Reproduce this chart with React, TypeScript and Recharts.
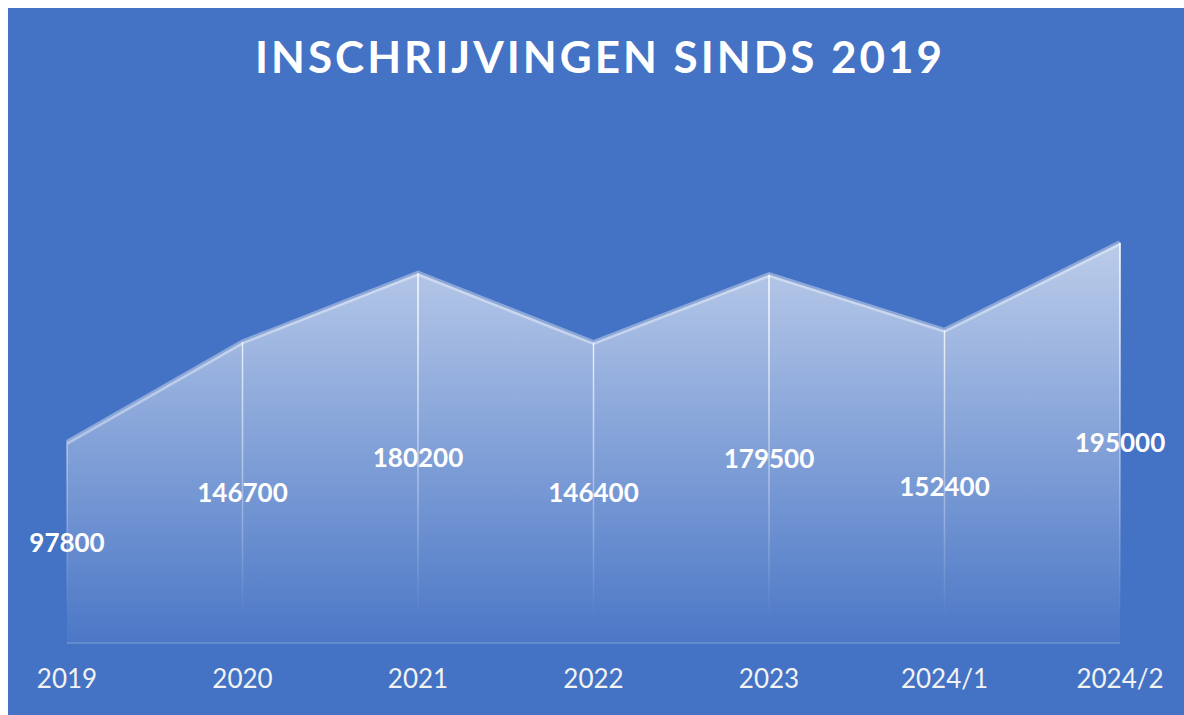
import React from "react";
import { AreaChart, Area, XAxis, YAxis, ReferenceLine } from "recharts";

const years = ["2019", "2020", "2021", "2022", "2023", "2024/1", "2024/2"];
const inschrijvingen = [97800, 146700, 180200, 146400, 179500, 152400, 195000];
const yTicks = [0, 50000, 100000, 150000, 200000, 250000];

const BG = "#4472C4";
const FONT = "Lato, 'Open Sans', sans-serif";

const data = years.map((year, i) => ({ year, value: inschrijvingen[i] }));

export default function App() {
  return (
    <div
      style={{
        position: "fixed",
        left: 8,
        top: 8,
        width: 1176,
        height: 707,
        background: BG,
        fontFamily: FONT,
      }}
    >
      <div
        style={{
          position: "absolute",
          top: 22,
          left: 0,
          width: "100%",
          textAlign: "center",
          color: "#fff",
          fontSize: 44,
          fontWeight: 700,
          letterSpacing: 3,
          paddingLeft: 4,
        }}
      >
        INSCHRIJVINGEN SINDS 2019
      </div>
      <AreaChart
        width={1176}
        height={707}
        data={data}
        margin={{ top: 122, right: 64, left: 59, bottom: 0 }}
      >
        <defs>
          <linearGradient id="areaFill" x1="0" y1="0" x2="0" y2="1">
            <stop offset="0%" stopColor="#ffffff" stopOpacity={0.64} />
            <stop offset="100%" stopColor="#ffffff" stopOpacity={0.04} />
          </linearGradient>
          {/* drop lines fade out towards the baseline */}
          <linearGradient id="dropFade" gradientUnits="userSpaceOnUse" x1="0" y1="240" x2="0" y2="610">
            <stop offset="0%" stopColor="#ffffff" stopOpacity={1} />
            <stop offset="100%" stopColor="#ffffff" stopOpacity={0} />
          </linearGradient>
        </defs>
        <XAxis
          dataKey="year"
          axisLine={{ stroke: "rgba(255,255,255,0.22)", strokeWidth: 1.5 }}
          tickLine={false}
          tickSize={0}
          tickMargin={27}
          height={72}
          interval={0}
          tick={{ fill: "#f2f2f2", fontSize: 26, fontFamily: FONT }}
        />
        <YAxis hide domain={[0, 250000]} ticks={yTicks} />
        <Area
          type="linear"
          dataKey="value"
          stroke="rgba(255,255,255,0.38)"
          strokeWidth={5}
          fill="url(#areaFill)"
          fillOpacity={1}
          dot={false}
          activeDot={false}
          isAnimationActive={false}
        />
        {data.map((d) => (
          <ReferenceLine
            key={d.year}
            segment={[
              { x: d.year, y: 0 },
              { x: d.year, y: d.value },
            ]}
            stroke="url(#dropFade)"
            strokeWidth={1.5}
            label={{
              value: d.value,
              position: "center",
              fill: "#ffffff",
              fontSize: 26,
              fontWeight: 700,
              fontFamily: FONT,
            }}
          />
        ))}
      </AreaChart>
    </div>
  );
}
